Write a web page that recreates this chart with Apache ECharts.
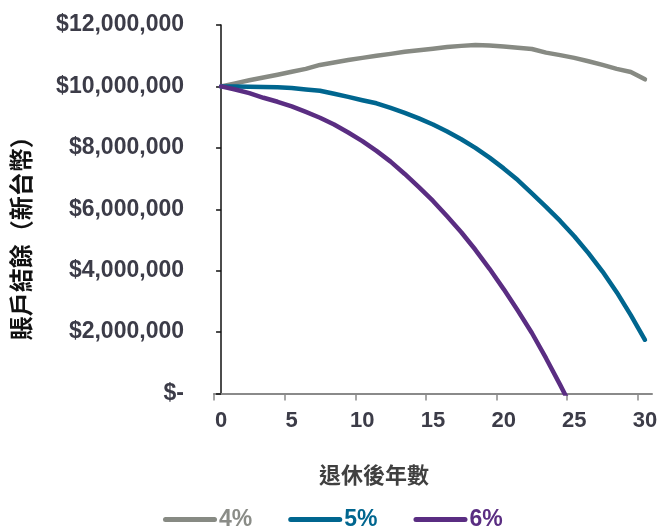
<!DOCTYPE html>
<html>
<head>
<meta charset="utf-8">
<script src="https://cdn.jsdelivr.net/npm/echarts@6/dist/echarts.min.js"></script>
<style>
  html, body { margin: 0; padding: 0; background: #ffffff; }
  #chart { width: 661px; height: 526px; }
</style>
</head>
<body>
<div id="chart"></div>
<script>
// Years after retirement
const years = [0, 1, 2, 3, 4, 5, 6, 7, 8, 9, 10, 11, 12, 13, 14, 15,
               16, 17, 18, 19, 20, 21, 22, 23, 24, 25, 26, 27, 28, 29, 30];

// Account balance (NTD) by withdrawal rate
const balance4 = [10000000, 10100000, 10200000, 10290000, 10380000, 10480000, 10570000, 10700000,
                  10780000, 10860000, 10930000, 11000000, 11060000, 11130000, 11180000, 11230000,
                  11280000, 11320000, 11350000, 11330000, 11300000, 11260000, 11220000, 11100000,
                  11020000, 10930000, 10820000, 10700000, 10570000, 10470000, 10230000];
const balance5 = [10000000, 10000000, 9990000, 9980000, 9970000, 9950000, 9900000, 9860000,
                  9760000, 9660000, 9550000, 9450000, 9300000, 9140000, 8960000, 8760000,
                  8530000, 8280000, 8000000, 7680000, 7330000, 6950000, 6520000, 6080000,
                  5620000, 5120000, 4570000, 3970000, 3300000, 2550000, 1750000];
const balance6 = [10000000, 9900000, 9780000, 9630000, 9500000, 9350000, 9170000, 8980000,
                  8760000, 8500000, 8220000, 7900000, 7550000, 7150000, 6720000, 6270000,
                  5770000, 5250000, 4680000, 4060000, 3400000, 2700000, 1970000, 1150000,
                  280000, -620000];

const seriesNames = ['4%', '5%', '6%'];
const seriesColors = ['#878a83', '#00668f', '#5a2d82'];
const legendTextColors = ['#8a8c87', '#00668f', '#5a2d82'];

// Axis ticks and labels
const yTickLabels = ['$-', '$2,000,000', '$4,000,000', '$6,000,000', '$8,000,000', '$10,000,000', '$12,000,000'];
const yStep = 2000000;
const xLabelYears = [0, 5, 10, 15, 20, 25, 30];
const xTickPositions = [-0.5, 4.5, 9.5, 14.5, 19.5, 24.5, 29.5];

const xAxisTitle = '退休後年數';
const yAxisTitle = '賬戶結餘（新台幣）';

const latin = 'Arial, "Liberation Sans", Helvetica, sans-serif';
const cjk = '"Noto Sans CJK TC", "Noto Sans CJK SC", sans-serif';

function toPairs(values) {
  return values.map((v, i) => [years[i], v]);
}

const allBalances = [balance4, balance5, balance6];

const chart = echarts.init(document.getElementById('chart'), null, { renderer: 'canvas' });

chart.setOption({
  backgroundColor: '#ffffff',
  animation: false,
  grid: { left: 214, right: 9, top: 25, bottom: 132.5, containLabel: false },
  legend: {
    left: 158,
    top: 503,
    itemWidth: 54,
    itemHeight: 5,
    itemGap: 36,
    icon: 'path://M2.5 0H51.5A2.5 2.5 0 0 1 51.5 5H2.5A2.5 2.5 0 0 1 2.5 0Z',
    data: seriesNames.map((n, i) => ({
      name: n,
      textStyle: { color: legendTextColors[i] }
    })),
    textStyle: { fontFamily: latin, fontWeight: 'bold', fontSize: 23, padding: [0, 0, 0, -3] },
    selectedMode: false
  },
  xAxis: {
    type: 'value',
    min: -0.5,
    max: 30.5,
    name: xAxisTitle,
    nameLocation: 'middle',
    nameGap: 70,
    nameTextStyle: {
      fontFamily: cjk, fontWeight: 'bold', fontSize: 22, color: '#404040',
      padding: [0, 118, 0, 0]
    },
    axisLine: { show: true, onZero: false, lineStyle: { color: '#8a8a8a', width: 2 } },
    axisTick: {
      show: true, length: 7, customValues: xTickPositions,
      lineStyle: { color: '#8a8a8a', width: 1.5 }
    },
    axisLabel: {
      customValues: xLabelYears,
      margin: 16,
      fontFamily: latin, fontWeight: 'bold', fontSize: 22, color: '#3c3c48'
    },
    splitLine: { show: false }
  },
  yAxis: {
    type: 'value',
    min: 0,
    max: 12000000,
    interval: yStep,
    name: yAxisTitle,
    nameLocation: 'middle',
    nameRotate: 90,
    nameGap: 181,
    nameTextStyle: {
      fontFamily: cjk, fontWeight: 'bold', fontSize: 24, color: '#111111',
      padding: [0, 46, 0, 0]
    },
    axisLine: { show: true, lineStyle: { color: '#111111', width: 1.5 } },
    axisTick: { show: true, length: 5, lineStyle: { color: '#111111', width: 1.5 } },
    axisLabel: {
      margin: 30,
      fontFamily: latin, fontWeight: 'bold', fontSize: 23, color: '#3c3c48',
      formatter: v => yTickLabels[Math.round(v / yStep)]
    },
    splitLine: { show: false }
  },
  series: seriesNames.map((n, i) => ({
    name: n,
    type: 'line',
    data: toPairs(allBalances[i]),
    showSymbol: false,
    symbol: 'none',
    smooth: false,
    clip: true,
    color: seriesColors[i],
    lineStyle: { color: seriesColors[i], width: 4.5, cap: 'round', join: 'round' },
    emphasis: { disabled: true }
  }))
});
</script>
</body>
</html>
